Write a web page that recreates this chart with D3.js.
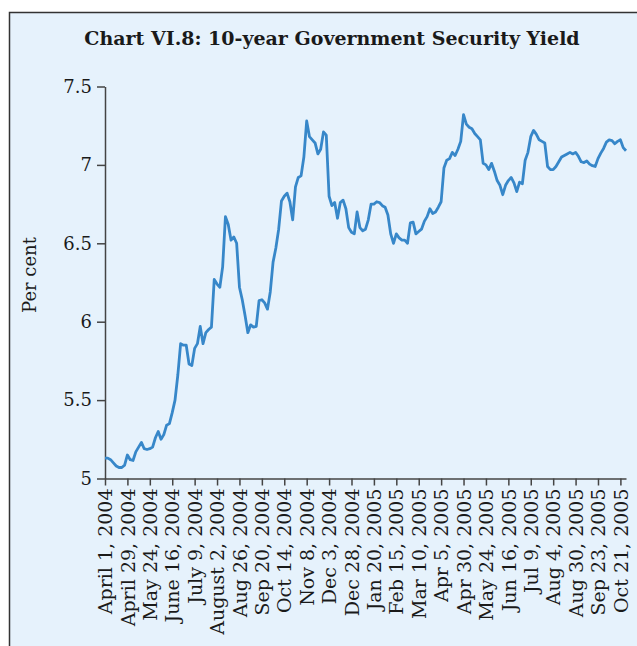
<!DOCTYPE html>
<html>
<head>
<meta charset="utf-8">
<script src="https://cdn.jsdelivr.net/npm/d3@7"></script>
<style>
  body { margin: 0; background: #ffffff; }
  text { font-family: "DejaVu Serif", serif; fill: #1a1a1a; }
  .axis path, .axis line { stroke: #444; stroke-width: 1.5; }
</style>
</head>
<body>
<div class="yieldChart"></div>
<script>
// 10-year G-sec yield, one reading per trading-day step
var yields = [
  5.13, 5.13, 5.12, 5.10, 5.08, 5.07, 5.07, 5.085, 5.15, 5.12,
  5.115, 5.17, 5.20, 5.23, 5.19, 5.185, 5.19, 5.20, 5.26, 5.30,
  5.25, 5.28, 5.34, 5.35, 5.42, 5.50, 5.66, 5.86, 5.85, 5.85,
  5.73, 5.72, 5.83, 5.86, 5.97, 5.86, 5.93, 5.95, 5.965, 6.27,
  6.24, 6.22, 6.35, 6.67, 6.62, 6.52, 6.54, 6.50, 6.22, 6.14,
  6.04, 5.93, 5.98, 5.965, 5.97, 6.135, 6.14, 6.12, 6.08, 6.19,
  6.38, 6.47, 6.59, 6.77, 6.80, 6.82, 6.765, 6.65, 6.86, 6.92,
  6.93, 7.05, 7.28, 7.18, 7.16, 7.14, 7.07, 7.10, 7.21, 7.19,
  6.80, 6.74, 6.76, 6.66, 6.76, 6.775, 6.72, 6.60, 6.57, 6.56,
  6.70, 6.60, 6.58, 6.59, 6.65, 6.75, 6.75, 6.765, 6.76, 6.74,
  6.73, 6.68, 6.56, 6.50, 6.56, 6.535, 6.52, 6.52, 6.50, 6.63,
  6.635, 6.56, 6.575, 6.59, 6.64, 6.67, 6.72, 6.69, 6.70, 6.73,
  6.765, 6.98, 7.03, 7.04, 7.08, 7.06, 7.10, 7.15, 7.32, 7.26,
  7.24, 7.23, 7.20, 7.18, 7.16, 7.01, 7.00, 6.97, 7.01, 6.96,
  6.90, 6.87, 6.81, 6.87, 6.90, 6.92, 6.885, 6.83, 6.89, 6.88,
  7.03, 7.08, 7.18, 7.22, 7.195, 7.16, 7.15, 7.14, 6.99, 6.97,
  6.97, 6.99, 7.02, 7.05, 7.06, 7.07, 7.08, 7.07, 7.08, 7.055,
  7.02, 7.015, 7.025, 7.005, 6.995, 6.99, 7.04, 7.075, 7.105, 7.145,
  7.16, 7.155, 7.135, 7.15, 7.16, 7.11, 7.09
];

// one label every 8 readings
var dateLabels = [
  "April 1, 2004", "April 29, 2004", "May 24, 2004", "June 16, 2004",
  "July 9, 2004", "August 2, 2004", "Aug 26, 2004", "Sep 20, 2004",
  "Oct 14, 2004", "Nov 8, 2004", "Dec 3, 2004", "Dec 28, 2004",
  "Jan 20, 2005", "Feb 15, 2005", "Mar 10, 2005", "Apr 5, 2005",
  "Apr 30, 2005", "May 24, 2005", "Jun 16, 2005", "Jul 9, 2005",
  "Aug 4, 2005", "Aug 30, 2005", "Sep 23, 2005", "Oct 21, 2005"
];
var labelStep = 8;

var yTicks = [5, 5.5, 6, 6.5, 7, 7.5];

var width = 637;
var height = 646;

var x = d3.scaleLinear()
    .domain([0, yields.length - 1])
    .range([105, 626]);

var y = d3.scaleLinear()
    .domain([5, 7.5])
    .range([478.5, 86.5]);

var canvas = d3.select(".yieldChart")
    .append("svg")
    .attr("width", width)
    .attr("height", height);

// panel
canvas.append("rect")
    .attr("x", 9.5)
    .attr("y", 12.5)
    .attr("width", 700)
    .attr("height", 700)
    .attr("fill", "#e6f2fc")
    .attr("stroke", "#333")
    .attr("stroke-width", 1.5);

canvas.append("text")
    .attr("x", 332)
    .attr("y", 45)
    .style("text-anchor", "middle")
    .style("font-weight", "bold")
    .style("font-size", "19px")
    .text("Chart VI.8: 10-year Government Security Yield");

var xAxis = d3.axisBottom(x)
    .tickValues(dateLabels.map(function(d, i) { return i * labelStep; }))
    .tickSize(7)
    .tickSizeOuter(0)
    .tickFormat(function(d) { return dateLabels[d / labelStep]; });

var yAxis = d3.axisLeft(y)
    .tickValues(yTicks)
    .tickSize(8)
    .tickSizeOuter(0)
    .tickPadding(5)
    .tickFormat(function(d) { return String(d); });

canvas.append("g")
    .attr("class", "x axis")
    .attr("transform", "translate(0, " + y(5) + ")")
    .call(xAxis)
    .selectAll("text")
    .attr("transform", "rotate(-90)")
    .attr("y", 0)
    .attr("x", -10)
    .attr("dy", "0.35em")
    .style("text-anchor", "end")
    .style("font-size", "19px");

canvas.append("g")
    .attr("class", "y axis")
    .attr("transform", "translate(" + x(0) + ", 0)")
    .call(yAxis)
    .selectAll("text")
    .style("font-size", "18px");

canvas.selectAll(".axis text").style("font-family", "DejaVu Serif, serif").style("fill", "#1a1a1a");

var line = d3.line()
    .x(function(d, i) { return x(i); })
    .y(function(d) { return y(d); });

canvas.append("path")
    .datum(yields)
    .attr("fill", "none")
    .attr("stroke", "#3787c9")
    .attr("stroke-width", 2.8)
    .attr("stroke-linejoin", "round")
    .attr("d", line);

canvas.append("text")
    .attr("transform", "rotate(-90)")
    .attr("x", -275)
    .attr("y", 30)
    .attr("dy", "0.35em")
    .style("text-anchor", "middle")
    .style("font-size", "18px")
    .text("Per cent");
</script>
</body>
</html>
